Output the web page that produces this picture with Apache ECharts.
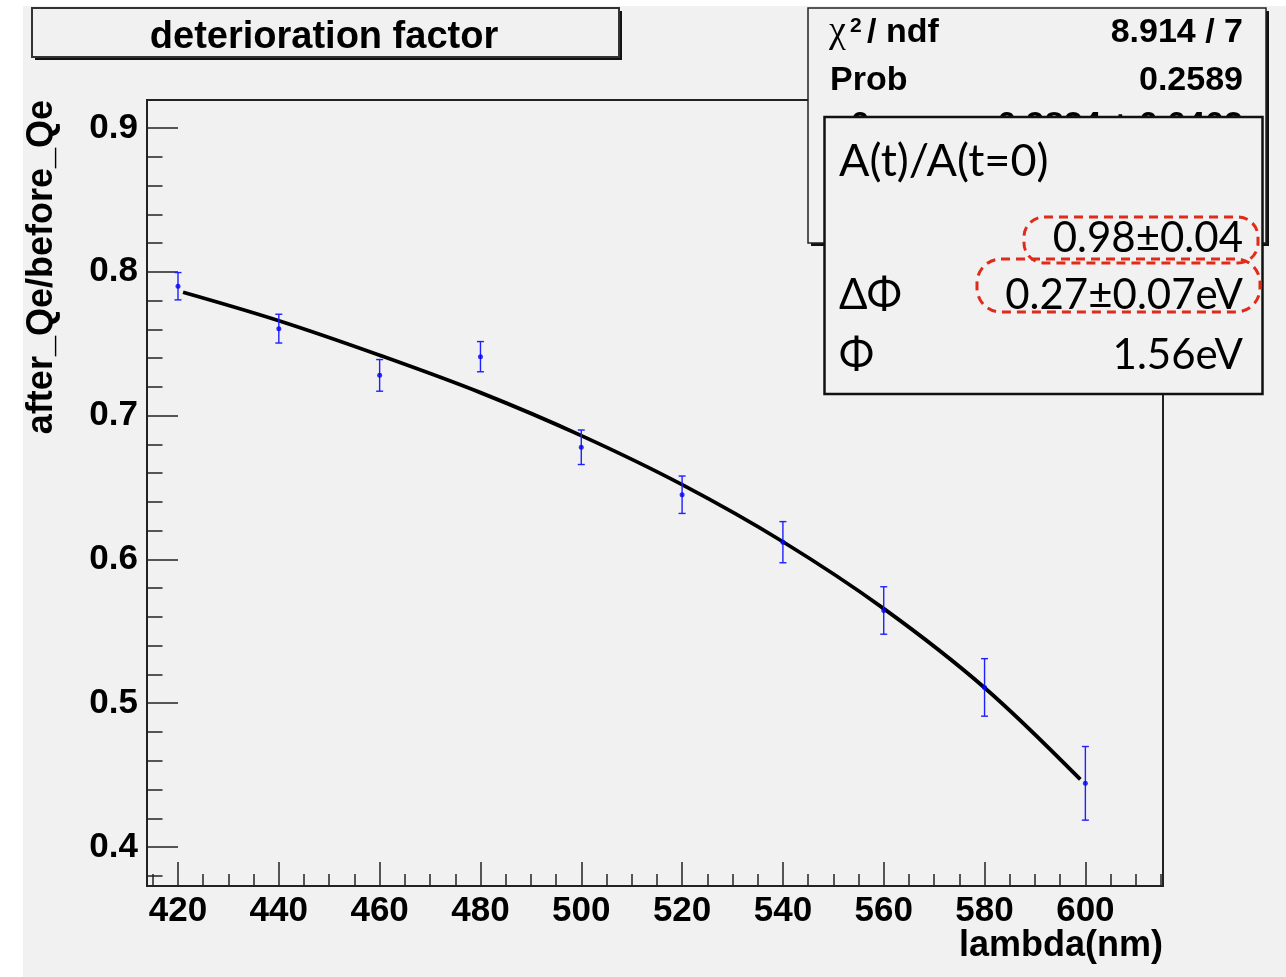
<!DOCTYPE html>
<html>
<head>
<meta charset="utf-8">
<script src="https://cdn.jsdelivr.net/npm/echarts@6.0.0/dist/echarts.min.js"></script>
<style>
  html, body { margin: 0; padding: 0; background: #ffffff; }
  #bg { position: absolute; left: 23px; top: 6px; width: 1263px; height: 971px; background: #f1f1f1; }
  #chart { position: absolute; left: 0; top: 0; width: 1286px; height: 977px; }
</style>
</head>
<body>
<div id="bg"></div>
<div id="chart"></div>
<script>
// ---- data ----
const lambda   = [420, 440, 460, 480, 500, 520, 540, 560, 580, 600];
const ratio    = [0.790, 0.7605, 0.728, 0.741, 0.678, 0.645, 0.612, 0.5645, 0.511, 0.4443];
const ratioErr = [0.0095, 0.010, 0.011, 0.0105, 0.012, 0.013, 0.0143, 0.0165, 0.020, 0.0256];

// fitted curve as drawn in the picture
const fitLambda = [421, 440, 460, 480, 500, 520, 540, 560, 580, 599];
const fitRatio  = [0.7858, 0.766, 0.742, 0.716, 0.6861, 0.652, 0.6123, 0.5658, 0.5108, 0.4470];

// tick values
const xMajorTicks = [420, 440, 460, 480, 500, 520, 540, 560, 580, 600];
const xMinorTicks = [415, 425, 430, 435, 445, 450, 455, 465, 470, 475, 485, 490, 495, 505, 510, 515,
                     525, 530, 535, 545, 550, 555, 565, 570, 575, 585, 590, 595, 605, 610, 615];
const yMajorTicks = [0.4, 0.5, 0.6, 0.7, 0.8, 0.9];
const yMinorTicks = [0.38, 0.42, 0.44, 0.46, 0.48, 0.52, 0.54, 0.56, 0.58, 0.62, 0.64, 0.66, 0.68,
                     0.72, 0.74, 0.76, 0.78, 0.82, 0.84, 0.86, 0.88, 0.92];

// texts
const titleText = 'deterioration factor';
const xTitle = 'lambda(nm)';
const yTitle = 'after_Qe/before_Qe';
const statChi = '8.914 / 7';
const statProb = '0.2589';
const statP0 = '0.9824 ± 0.0402';
const boxHead = 'A(t)/A(t=0)';
const boxNorm = '0.98±0.04';
const boxDPhiLabel = 'ΔΦ';
const boxDPhi = '0.27±0.07eV';
const boxPhiLabel = 'Φ';
const boxPhi = '1.56eV';

const X_MIN = 413.85, X_MAX = 615.4;
const Y_MIN = 0.3729, Y_MAX = 0.9195;

const helv = '"Liberation Sans", Arial, sans-serif';
const gill = 'Lato, "Open Sans", sans-serif';

const chart = echarts.init(document.getElementById('chart'), null, { renderer: 'canvas' });

const option = {
  animation: false,
  backgroundColor: 'transparent',
  grid: {
    left: 147, right: 123, top: 100, bottom: 91,
    show: true, borderColor: '#222', borderWidth: 2, backgroundColor: 'transparent'
  },
  xAxis: [
    {
      type: 'value', min: X_MIN, max: X_MAX, position: 'bottom',
      axisLine: { show: true, onZero: false, lineStyle: { color: '#222', width: 2 } },
      axisTick: { show: true, inside: true, length: 24, customValues: xMajorTicks, lineStyle: { color: '#222', width: 1.5 } },
      axisLabel: {
        customValues: xMajorTicks, margin: 8,
        formatter: v => String(Math.round(v)),
        fontSize: 35, fontWeight: 'bold', color: '#000', fontFamily: helv
      },
      splitLine: { show: false }
    },
    {
      type: 'value', min: X_MIN, max: X_MAX, position: 'bottom',
      axisLine: { show: false },
      axisTick: { show: true, inside: true, length: 12, customValues: xMinorTicks, lineStyle: { color: '#222', width: 1.5 } },
      axisLabel: { show: false },
      splitLine: { show: false }
    }
  ],
  yAxis: [
    {
      type: 'value', min: Y_MIN, max: Y_MAX, position: 'left',
      axisLine: { show: true, onZero: false, lineStyle: { color: '#222', width: 2 } },
      axisTick: { show: true, inside: true, length: 31, customValues: yMajorTicks, lineStyle: { color: '#222', width: 1.5 } },
      axisLabel: {
        customValues: yMajorTicks, margin: 9,
        formatter: v => v.toFixed(1),
        fontSize: 35, fontWeight: 'bold', color: '#000', fontFamily: helv
      },
      splitLine: { show: false }
    },
    {
      type: 'value', min: Y_MIN, max: Y_MAX, position: 'left',
      axisLine: { show: false },
      axisTick: { show: true, inside: true, length: 15.5, customValues: yMinorTicks, lineStyle: { color: '#222', width: 1.5 } },
      axisLabel: { show: false },
      splitLine: { show: false }
    }
  ],
  series: [
    {
      name: 'fit', type: 'line', xAxisIndex: 0, yAxisIndex: 0,
      data: fitLambda.map((x, i) => [x, fitRatio[i]]),
      showSymbol: false, smooth: 0.35,
      lineStyle: { color: '#000', width: 3.8 }, z: 3
    },
    {
      name: 'errors', type: 'custom', xAxisIndex: 0, yAxisIndex: 0,
      data: lambda.map((x, i) => [x, ratio[i], ratioErr[i]]),
      encode: { x: 0, y: 1 },
      renderItem: function (params, api) {
        const x = api.value(0), y = api.value(1), e = api.value(2);
        const top = api.coord([x, y + e]);
        const bot = api.coord([x, y - e]);
        const w = 3.5;
        const st = { stroke: '#1f1fff', lineWidth: 1.4 };
        return {
          type: 'group',
          children: [
            { type: 'line', shape: { x1: top[0], y1: top[1], x2: bot[0], y2: bot[1] }, style: st },
            { type: 'line', shape: { x1: top[0] - w, y1: top[1], x2: top[0] + w, y2: top[1] }, style: st },
            { type: 'line', shape: { x1: bot[0] - w, y1: bot[1], x2: bot[0] + w, y2: bot[1] }, style: st }
          ]
        };
      },
      z: 4
    },
    {
      name: 'data', type: 'scatter', xAxisIndex: 0, yAxisIndex: 0,
      data: lambda.map((x, i) => [x, ratio[i]]),
      symbol: 'circle', symbolSize: 5,
      itemStyle: { color: '#0000ff' }, z: 5
    }
  ],
  graphic: [
    // title box
    { type: 'rect', z: 100, shape: { x: 35, y: 11, width: 587, height: 49 }, style: { fill: '#111' } },
    { type: 'rect', z: 101, shape: { x: 32, y: 8, width: 587, height: 49 }, style: { fill: '#f1f1f1', stroke: '#333', lineWidth: 2 } },
    { type: 'text', z: 102, x: 324, y: 38, style: { text: titleText, font: 'bold 38px ' + helv, fill: '#000', align: 'center', verticalAlign: 'middle' } },

    // axis titles
    { type: 'text', z: 102, x: 42, y: 100, rotation: Math.PI / 2,
      style: { text: yTitle, font: 'bold 36px ' + helv, fill: '#000', align: 'right', verticalAlign: 'middle' } },
    { type: 'text', z: 102, x: 1163, y: 946,
      style: { text: xTitle, font: 'bold 36px ' + helv, fill: '#000', align: 'right', verticalAlign: 'middle' } },

    // stats box
    { type: 'rect', z: 100, shape: { x: 811, y: 11, width: 458, height: 235 }, style: { fill: '#111' } },
    { type: 'rect', z: 101, shape: { x: 808, y: 8, width: 458, height: 235 }, style: { fill: '#f1f1f1', stroke: '#222', lineWidth: 1.5 } },
    { type: 'text', z: 102, x: 829, y: 32, style: { text: 'χ', font: '38px "Liberation Serif", serif', fill: '#000', align: 'left', verticalAlign: 'middle' } },
    { type: 'text', z: 102, x: 850, y: 26, style: { text: '2', font: 'bold 21px ' + helv, fill: '#000', align: 'left', verticalAlign: 'middle' } },
    { type: 'text', z: 102, x: 867, y: 33, style: { text: '/ ndf', font: 'bold 34px ' + helv, fill: '#000', align: 'left', verticalAlign: 'middle' } },
    { type: 'text', z: 102, x: 1243, y: 33, style: { text: statChi, font: 'bold 34px ' + helv, fill: '#000', align: 'right', verticalAlign: 'middle' } },
    { type: 'text', z: 102, x: 830, y: 81, style: { text: 'Prob', font: 'bold 34px ' + helv, fill: '#000', align: 'left', verticalAlign: 'middle' } },
    { type: 'text', z: 102, x: 1243, y: 81, style: { text: statProb, font: 'bold 34px ' + helv, fill: '#000', align: 'right', verticalAlign: 'middle' } },
    { type: 'text', z: 102, x: 830, y: 126, style: { text: 'p0', font: 'bold 34px ' + helv, fill: '#000', align: 'left', verticalAlign: 'middle' } },
    { type: 'text', z: 102, x: 1243, y: 126, style: { text: statP0, font: 'bold 34px ' + helv, fill: '#000', align: 'right', verticalAlign: 'middle' } },

    // overlay result box
    { type: 'rect', z: 110, shape: { x: 824.5, y: 117, width: 438, height: 277 }, style: { fill: '#f1f1f1', stroke: '#111', lineWidth: 2.5 } },
    { type: 'text', z: 111, x: 839, y: 161, style: { text: boxHead, font: '45px ' + gill, fill: '#000', align: 'left', verticalAlign: 'middle' } },
    { type: 'text', z: 111, x: 1243, y: 238, style: { text: boxNorm, font: '42px ' + gill, fill: '#000', align: 'right', verticalAlign: 'middle' } },
    { type: 'text', z: 111, x: 839, y: 295, style: { text: boxDPhiLabel, font: '42px ' + gill, fill: '#000', align: 'left', verticalAlign: 'middle' } },
    { type: 'text', z: 111, x: 1243, y: 295, style: { text: boxDPhi, font: '42px ' + gill, fill: '#000', align: 'right', verticalAlign: 'middle' } },
    { type: 'text', z: 111, x: 839, y: 355, style: { text: boxPhiLabel, font: '42px ' + gill, fill: '#000', align: 'left', verticalAlign: 'middle' } },
    { type: 'text', z: 111, x: 1243, y: 355, style: { text: boxPhi, font: '42px ' + gill, fill: '#000', align: 'right', verticalAlign: 'middle' } },

    // red dashed highlight outlines
    { type: 'rect', z: 112, shape: { x: 1024, y: 217, width: 234, height: 46, r: 20 },
      style: { fill: 'none', stroke: '#e02a1a', lineWidth: 3, lineDash: [9, 6] } },
    { type: 'rect', z: 112, shape: { x: 977, y: 259, width: 283, height: 53, r: 24 },
      style: { fill: 'none', stroke: '#e02a1a', lineWidth: 3, lineDash: [9, 6] } }
  ]
};

chart.setOption(option);
</script>
</body>
</html>
